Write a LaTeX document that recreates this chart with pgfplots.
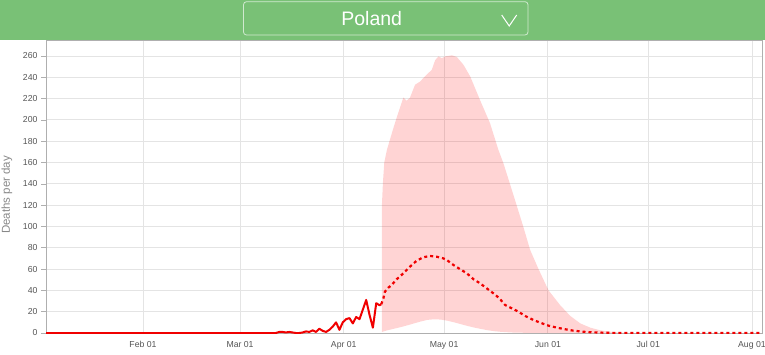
\documentclass[border=0pt]{standalone}
\usepackage{fontspec}
\setmainfont{Liberation Sans}
\usepackage{pgfplots}
\pgfplotsset{compat=1.18}
\usepgfplotslibrary{fillbetween}
\definecolor{bannergreen}{RGB}{121,193,118}
\definecolor{ticklab}{RGB}{85,85,85}
\definecolor{ylab}{RGB}{136,136,136}
\definecolor{gridc}{RGB}{228,228,228}
\definecolor{axisc}{RGB}{175,175,175}
\definecolor{obsred}{RGB}{240,0,0}
\begin{document}
\begin{tikzpicture}
\path (0pt,0pt) rectangle (765pt,354pt);
\begin{axis}[
  at={(46pt,21pt)}, anchor=south west, scale only axis,
  width=716pt, height=293pt,
  xmin=2, xmax=216, ymin=0, ymax=275,
  xtick={31,60,91,121,152,182,213},
  xticklabels={Feb 01,Mar 01,Apr 01,May 01,Jun 01,Jul 01,Aug 01},
  ytick={0,20,...,260},
  grid=major, grid style={gridc, line width=0.9pt},
  axis line style={axisc, line width=0.8pt},
  x axis line style={line width=1.4pt},
  tick align=outside, xtick pos=bottom, ytick pos=left,
  major tick length=5pt, tick style={axisc, line width=0.6pt},
  x tick style={draw=none},
  ticklabel style={font=\fontsize{8.7}{10}\selectfont, text=ticklab},
  /pgf/number format/assume math mode=true,
]
\addplot[draw=none, name path=up] coordinates {
(102.4,120)(102.7,141)(103.1,160)(103.9,172)(105.7,191)(107,204)(108.8,221)(109.8,218)(110.8,221)(112.3,233)(113.8,236)(115,240)(116.3,244)(117.3,247)(118.3,256)(119.3,259.6)(120.3,258)(121.3,259.6)(123.3,260.6)(124.8,259)(126.8,251.6)(128.8,240.7)(131.7,218.8)(134.7,197)(136.2,182)(137.2,172)(138.7,159.4)(140.7,139.6)(142.7,119.5)(144.7,99.3)(146.7,78)(149.2,60)(152.2,40)(155.7,26)(158.7,16)(161.7,9)(164.7,5)(167.7,2.5)(170.7,1.2)(173.7,0.4)(177,0)(216,0)
};
\addplot[draw=none, name path=lo] coordinates {
(102.4,1)(104,2.5)(106,4)(108,5.5)(110,7.2)(112,9)(114,10.8)(116,12.3)(118,12.9)(120,12.6)(122,11.5)(124,10)(126,8.3)(128,6.6)(130,5.1)(132,3.8)(134,2.6)(136,1.7)(138,1.1)(141,0.5)(145,0.2)(150,0)(177,0)(216,0)
};
\addplot[fill=red, fill opacity=0.17, draw=none] fill between[of=up and lo];
\addplot[obsred, line width=2pt, line join=round] coordinates {
(2,0)(70.7,0)(71.7,1)(72.7,1)(73.7,0.5)(74.7,1)(75.7,0.5)(76.7,0)(77.7,0)(78.7,0.5)(79.7,1.5)(80.7,1)(81.7,2.5)(82.7,1)(83.7,4)(84.7,2)(85.7,1)(86.7,3)(87.7,6)(88.7,10)(89.7,3)(90.7,10)(91.7,13)(92.7,14)(93.7,9)(94.7,15)(95.7,13)(96.7,22)(97.7,31)(98.7,17)(99.7,5)(100.7,28)(101.7,26)(102.2,27)
};
\addplot[obsred, line width=2.2pt, dash pattern=on 3pt off 3pt] coordinates {
(102.2,27)(102.8,32)(103.3,38.8)(104.3,42.5)(105.3,45)(106.8,50.4)(108.8,56)(110.8,62.3)(112.8,67.9)(114.8,71.1)(116.8,72.3)(118.8,71.6)(120.8,70)(121.8,68.5)(123.8,63.8)(125.8,59.8)(127.8,56)(129.8,50.4)(131.7,46.7)(133.7,42)(135.7,37.3)(137.5,32.6)(139.2,26.3)(141.2,23.2)(143.2,20)(145.2,16)(147.7,12.2)(149.7,9.7)(152.2,6.9)(154.7,5)(157.2,3.5)(159.6,2.2)(163.6,0.9)(168.6,0.3)(173.6,0)(216,0)
};
\end{axis}
\node[rotate=90, text=ylab, font=\fontsize{11.5}{13}\selectfont] at (6.9pt,159pt) {Deaths per day};
\fill[bannergreen] (0pt,313.5pt) rectangle (765pt,354pt);
\draw[white, draw opacity=0.65, line width=0.8pt, rounded corners=3pt] (243.5pt,319pt) rectangle (528pt,352.3pt);
\node[white, font=\fontsize{19.5}{22}\selectfont, anchor=base, inner sep=0pt] at (371.7pt,328pt) {Poland};
\draw[white, line width=1pt] (501.7pt,339pt) -- (509.2pt,328pt) -- (516.7pt,339pt);
\pgfresetboundingbox
\useasboundingbox (0pt,0pt) rectangle (765pt,354pt);
\end{tikzpicture}
\end{document}
